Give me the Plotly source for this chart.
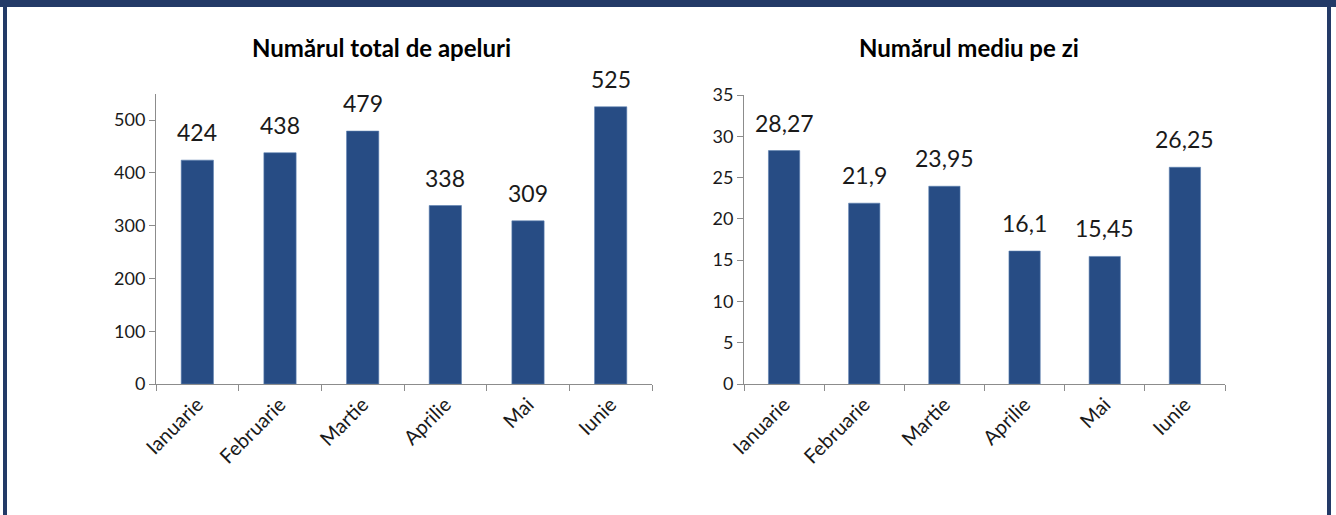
import plotly.graph_objects as go

W, H = 1336, 515

luni = ["Ianuarie", "Februarie", "Martie", "Aprilie", "Mai", "Iunie"]
total_apeluri = [424, 438, 479, 338, 309, 525]
total_text = ["424", "438", "479", "338", "309", "525"]
medie_pe_zi = [28.27, 21.9, 23.95, 16.1, 15.45, 26.25]
medie_text = ["28,27", "21,9", "23,95", "16,1", "15,45", "26,25"]

FONT = "Lato"
BAR = "#274C84"
AXIS = "#8C8C8C"
NAVY = "#233A67"


def px_x(x):
    return x / W


def px_y(y):
    return (H - y) / H


fig = go.Figure()
value_labels = []

for xa, ya, vals, labels in [
    ("x", "y", total_apeluri, total_text),
    ("x2", "y2", medie_pe_zi, medie_text),
]:
    fig.add_trace(
        go.Bar(
            x=luni,
            y=vals,
            marker=dict(color=BAR, line=dict(color="#5a7fb0", width=0.6)),
            width=0.39,
            xaxis=xa,
            yaxis=ya,
            showlegend=False,
        )
    )
    # Excel-style data labels sit a bit above the bar top
    for lun, v, t in zip(luni, vals, labels):
        value_labels.append(
            dict(
                text=t, x=lun, y=v, xref=xa, yref=ya,
                xanchor="center", yanchor="bottom", yshift=12,
                showarrow=False,
                font=dict(size=23, color="#1a1a1a", family=FONT),
            )
        )

axis_common = dict(
    showgrid=False,
    showline=True,
    linecolor=AXIS,
    linewidth=1,
    ticks="outside",
    tickcolor=AXIS,
    ticklen=6,
    tickfont=dict(size=18, color="#1a1a1a", family=FONT),
    zeroline=False,
    fixedrange=True,
    automargin=False,
)
xaxis_extra = dict(
    tickangle=-45,
    tickson="boundaries",
    tickfont=dict(size=20, color="#1a1a1a", family=FONT),
)

titles = [
    dict(
        text="<b>Numărul total de apeluri</b>",
        x=px_x(381), y=px_y(47), xref="paper", yref="paper",
        xanchor="center", yanchor="middle",
        showarrow=False, font=dict(size=24, color="#000000", family=FONT),
    ),
    dict(
        text="<b>Numărul mediu pe zi</b>",
        x=px_x(969), y=px_y(47), xref="paper", yref="paper",
        xanchor="center", yanchor="middle",
        showarrow=False, font=dict(size=24, color="#000000", family=FONT),
    ),
]

fig.update_layout(
    template="none",
    width=W,
    height=H,
    margin=dict(l=0, r=0, t=0, b=0, pad=0),
    paper_bgcolor="white",
    plot_bgcolor="white",
    font=dict(family=FONT),
    xaxis=dict(axis_common, **xaxis_extra, domain=[px_x(156), px_x(652)], anchor="y"),
    yaxis=dict(
        axis_common,
        domain=[px_y(384), px_y(93.6)],
        range=[0, 550],
        tickvals=[0, 100, 200, 300, 400, 500],
        anchor="x",
    ),
    xaxis2=dict(axis_common, **xaxis_extra, domain=[px_x(744), px_x(1225)], anchor="y2"),
    yaxis2=dict(
        axis_common,
        domain=[px_y(384), px_y(95)],
        range=[0, 35],
        dtick=5,
        anchor="x2",
    ),
    annotations=titles + value_labels,
    shapes=[
        # dark frame around the picture
        dict(type="rect", xref="paper", yref="paper", x0=0, x1=1,
             y0=px_y(7), y1=1, fillcolor=NAVY, line=dict(width=0)),
        dict(type="rect", xref="paper", yref="paper", x0=px_x(3), x1=px_x(7),
             y0=0, y1=1, fillcolor=NAVY, line=dict(width=0)),
        dict(type="rect", xref="paper", yref="paper", x0=px_x(1327), x1=px_x(1331),
             y0=0, y1=1, fillcolor=NAVY, line=dict(width=0)),
    ],
    bargap=0.6,
)

# the page's default body margin would push the figure off by 8px
fig.write_html(
    "out.html",
    config={"displayModeBar": False},
    post_script="document.body.style.margin='0';",
)
